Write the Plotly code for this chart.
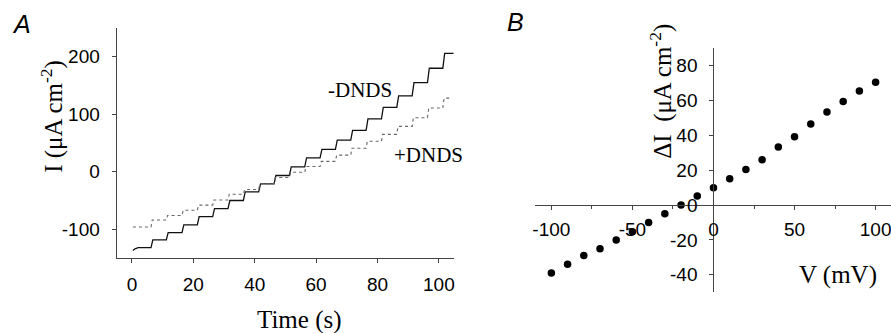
import plotly.graph_objects as go

W, H = 891, 333

# ---------------- Panel A data ----------------
step_times = [6.2, 11.2, 16.3, 21.3, 26.3, 31.3, 36.3, 41.3, 46.3, 51.3,
              56.3, 61.3, 66.3, 71.3, 76.3, 81.3, 86.3, 91.3, 96.3, 101.3]
levels_minus = [-132, -118.5, -106, -92.5, -78, -64, -50, -35, -21, -6.5, 8.5,
                24, 39, 55, 72, 92, 112, 132, 155, 180, 206]
levels_plus = [-96, -84, -76, -67, -58, -49, -39, -31, -21, -10, -1,
               9, 18, 29, 41, 53, 65, 79, 94, 111, 128]
t_start_minus, start_minus = [0.3, 1.0], [-137, -134]
t_start_plus = 0.3
t_end_minus, t_end_plus = 104.8, 104.2
time_ticks = [0, 20, 40, 60, 80, 100]
time_labels = ["0", "20", "40", "60", "80", "100"]
current_ticks = [-100, 0, 100, 200]
current_labels = ["-100", "0", "100", "200"]

# ---------------- Panel B data ----------------
V = [-100, -90, -80, -70, -60, -50, -40, -30, -20, -10, 0,
     10, 20, 30, 40, 50, 60, 70, 80, 90, 100]
dI = [-39, -34, -29, -25, -20, -15.3, -10, -5, 0, 5.2, 9.9,
      15, 20.3, 26, 33.2, 39.2, 46.4, 53.3, 59.4, 65.3, 70.3]
v_ticks = [-100, -50, 0, 50, 100]
v_labels = ["-100", "-50", "0", "50", "100"]
di_ticks = [-40, -20, 0, 20, 40, 60, 80]
di_labels = ["-40", "-20", "0", "20", "40", "60", "80"]


def staircase(t0_list, y0_list, steps, levels, t_end, rise=0.6):
    xs = list(t0_list)
    ys = list(y0_list)
    xs.append(xs[-1] + 1.0)
    ys.append(levels[0])
    for i, ts in enumerate(steps):
        xs += [ts, ts + rise]
        ys += [levels[i], levels[i + 1]]
    xs.append(t_end)
    ys.append(levels[-1])
    return xs, ys


xm, ym = staircase(t_start_minus, start_minus, step_times, levels_minus, t_end_minus)
xp, yp = staircase([t_start_plus], [levels_plus[0]], step_times, levels_plus, t_end_plus, rise=0.4)


def px_x(p):
    return p / W


def px_y(p):
    return 1 - p / H


fig = go.Figure()
fig.add_trace(go.Scatter(x=xm, y=ym, mode="lines", line=dict(color="#111", width=1.3),
                         xaxis="x", yaxis="y", showlegend=False))
fig.add_trace(go.Scatter(x=xp, y=yp, mode="lines", line=dict(color="#666", width=1.1, dash="dot"),
                         xaxis="x", yaxis="y", showlegend=False))
fig.add_trace(go.Scatter(x=V, y=dI, mode="markers", marker=dict(color="black", size=7.5),
                         xaxis="x2", yaxis="y2", showlegend=False))

tickfont = dict(family="Liberation Sans, Arial, sans-serif", size=19, color="black")
serif = "Liberation Serif, Times New Roman, serif"
axcol = "#444"

fig.update_layout(
    width=W, height=H, autosize=False,
    margin=dict(l=0, r=0, t=0, b=0),
    paper_bgcolor="white", plot_bgcolor="white",
    xaxis=dict(domain=[px_x(114), px_x(452.7)], range=[-5, 105], anchor="y",
               tickvals=time_ticks, ticktext=time_labels, ticks="outside", ticklen=4, tickcolor=axcol,
               showline=True, linecolor=axcol, linewidth=1, showgrid=False, zeroline=False,
               tickfont=tickfont, ticklabelstandoff=5, ticklabeloverflow="allow"),
    yaxis=dict(domain=[px_y(258), px_y(28)], range=[-150, 250], anchor="x",
               tickvals=current_ticks, ticktext=current_labels, ticks="outside", ticklen=4, tickcolor=axcol,
               showline=True, linecolor=axcol, linewidth=1, showgrid=False, zeroline=False,
               tickfont=tickfont, ticklabelstandoff=8),
    xaxis2=dict(domain=[px_x(533.95), 1.0], range=[-110, 109.5], anchor="free",
                position=px_y(205),
                tickvals=v_ticks, ticktext=v_labels, ticks="outside", ticklen=4, tickcolor=axcol,
                minor=dict(dtick=25, ticks="outside", ticklen=3, tickcolor=axcol),
                showline=True, linecolor=axcol, linewidth=1, showgrid=False, zeroline=False,
                tickfont=tickfont, ticklabelstandoff=3, ticklabeloverflow="allow"),
    yaxis2=dict(domain=[px_y(292.25), px_y(48)], range=[-50, 90], anchor="free",
                position=px_x(712.7),
                tickvals=di_ticks, ticktext=di_labels, ticks="outside", ticklen=4, tickcolor=axcol,
                showline=True, linecolor=axcol, linewidth=1, showgrid=False, zeroline=False,
                tickfont=tickfont, ticklabelstandoff=8),
)

ann = [
    dict(text="<i>A</i>", x=px_x(19), y=px_y(24), font=dict(family="Liberation Sans, Arial", size=25, color="black")),
    dict(text="<i>B</i>", x=px_x(514), y=px_y(22), font=dict(family="Liberation Sans, Arial", size=25, color="black")),
    dict(text="I (μA cm<sup>-2</sup>)", x=px_x(50), y=px_y(116), textangle=-90,
         font=dict(family=serif, size=25, color="black")),
    dict(text="Time (s)", x=px_x(297), y=px_y(320), font=dict(family=serif, size=25, color="black")),
    dict(text="-DNDS", x=px_x(358.5), y=px_y(90), font=dict(family=serif, size=21, color="black")),
    dict(text="+DNDS", x=px_x(427), y=px_y(155), font=dict(family=serif, size=21, color="black")),
    dict(text="ΔI  (μA cm<sup>-2</sup>)", x=px_x(661), y=px_y(91), textangle=-90,
         font=dict(family=serif, size=25, color="black")),
    dict(text="V (mV)", x=px_x(838), y=px_y(275), font=dict(family=serif, size=25, color="black")),
]
for a in ann:
    a.update(xref="paper", yref="paper", xanchor="center", yanchor="middle", showarrow=False)
fig.update_layout(annotations=ann)

fig.write_html("out.html", config={"displayModeBar": False},
               post_script="document.body.style.margin='0';document.body.style.overflow='hidden';")
